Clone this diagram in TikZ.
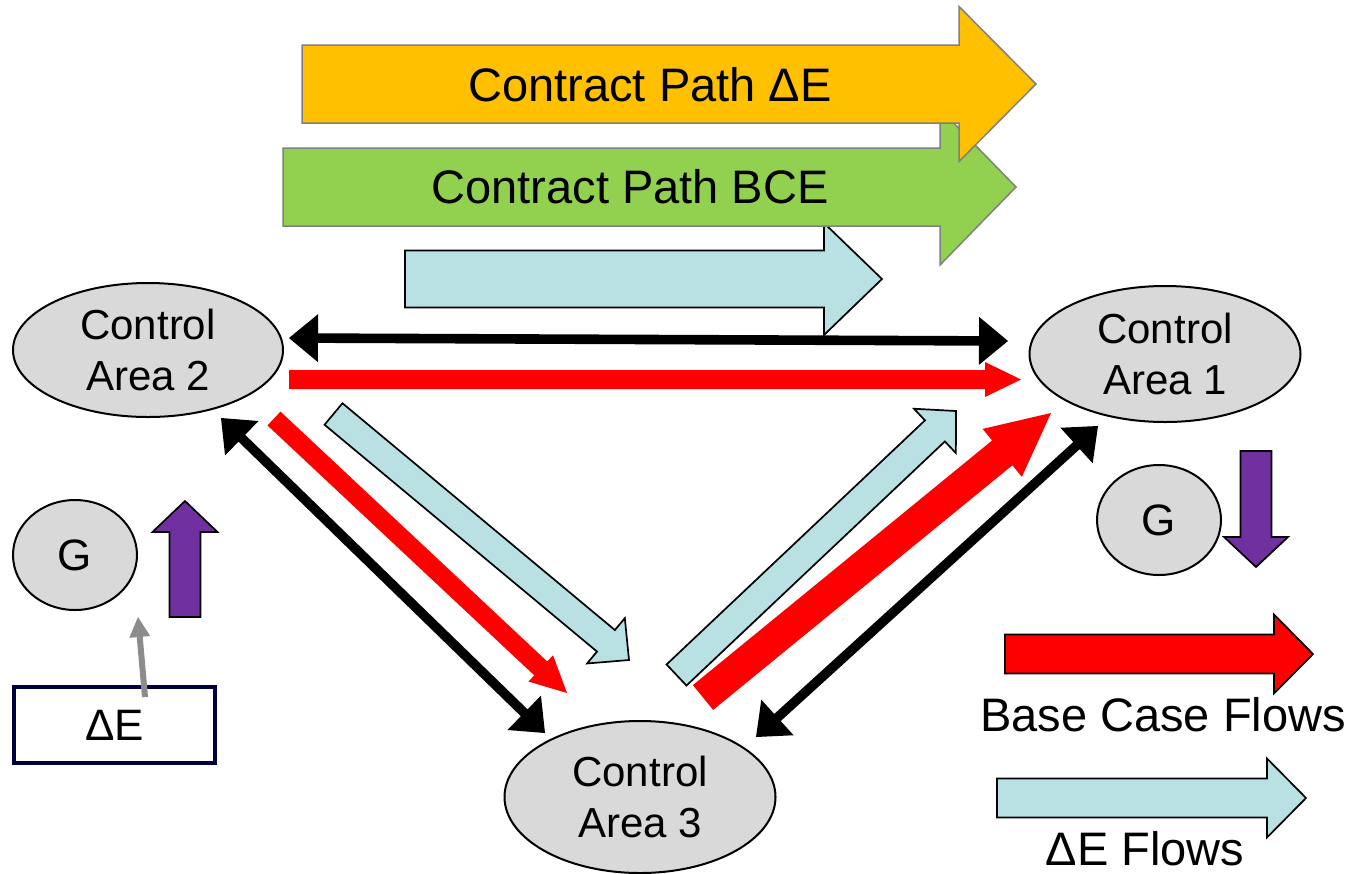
\documentclass[tikz,border=0pt]{standalone}
\usepackage{fontspec}
\setmainfont{Liberation Sans}
\usetikzlibrary{calc,shapes.geometric}
\definecolor{cpOrange}{HTML}{FFC000}
\definecolor{cpGreen}{HTML}{92D050}
\definecolor{lblue}{HTML}{B9E0E3}
\definecolor{purp}{HTML}{7030A0}
\definecolor{areagray}{HTML}{D9D9D9}
\definecolor{navy}{HTML}{000040}
\definecolor{ctrlgray}{HTML}{8C8C8C}
\definecolor{outlinegray}{HTML}{808080}
% block arrow: style, tail, tip, half body, half head, head length
\newcommand{\blockarr}[6]{%
  \path ($(#3)!#6!(#2)$) coordinate (baB);
  \path[#1] ($(#2)!#4!90:(#3)$) -- ($(baB)!#4!90:(#3)$) -- ($(baB)!#5!90:(#3)$) -- (#3)
    -- ($(baB)!#5!-90:(#3)$) -- ($(baB)!#4!-90:(#3)$) -- ($(#2)!#4!-90:(#3)$) -- cycle;}
% double headed arrow: style, tip A, tip B, half body, half head, head length
\newcommand{\dblarr}[6]{%
  \path ($(#2)!#6!(#3)$) coordinate (daA) ($(#3)!#6!(#2)$) coordinate (daB);
  \path[#1] (#2) -- ($(daA)!#5!90:(#3)$) -- ($(daA)!#4!90:(#3)$) -- ($(daB)!#4!90:(#3)$)
    -- ($(daB)!#5!90:(#3)$) -- (#3) -- ($(daB)!#5!-90:(#3)$) -- ($(daB)!#4!-90:(#3)$)
    -- ($(daA)!#4!-90:(#3)$) -- ($(daA)!#5!-90:(#3)$) -- cycle;}
\begin{document}
\begin{tikzpicture}[x=0.5pt,y=-0.5pt,
  area/.style={ellipse, draw=black, line width=1pt, fill=areagray, inner sep=0pt,
    align=center, font=\fontsize{21}{25.5}\selectfont},
  gen/.style={ellipse, draw=black, line width=1pt, fill=areagray, inner sep=0pt,
    minimum width=62pt, minimum height=55pt, font=\fontsize{22}{26}\selectfont},
  bigtext/.style={font=\fontsize{23.5}{28}\selectfont, inner sep=0pt},
  keytext/.style={font=\fontsize{23.5}{28}\selectfont, inner sep=0pt},
  orangearrow/.style={fill=cpOrange, draw=outlinegray, line width=0.75pt},
  greenarrow/.style={fill=cpGreen, draw=outlinegray, line width=0.75pt},
  deltaflow/.style={fill=lblue, draw=black, line width=0.85pt},
  baseflow/.style={fill=red},
  baseflowkey/.style={fill=red, draw=black, line width=0.85pt},
  genarrow/.style={fill=purp, draw=black, line width=0.85pt},
  tieline/.style={fill=black},
  ctrlarrow/.style={fill=ctrlgray}]
\useasboundingbox (0,0) rectangle (1354,873);

% contract path arrows
\blockarr{deltaflow}{405,279}{882,279}{14.25pt}{28pt}{29pt}
\blockarr{greenarrow}{283,187}{1016,187}{19.5pt}{39pt}{38pt}
\node[bigtext] (cpbce) at (630,187) {Contract Path BCE};
\blockarr{orangearrow}{302,84}{1036,84}{19.5pt}{38.75pt}{38.5pt}
\node[bigtext] (cpde) at (650,85) {Contract Path ΔE};

% control areas
\node[area, minimum width=135pt, minimum height=67pt] (ca2) at (148,350) {Control\\Area 2};
\node[area, minimum width=135.5pt, minimum height=68pt] (ca1) at (1165,354) {Control\\Area 1};
\node[area, minimum width=135.5pt, minimum height=76pt] (ca3) at (640,797) {Control\\Area 3};

% generators
\node[gen] (g2) at (75,555) {G};
\node[gen] (g1) at (1159,520) {G};
\node[draw=navy, line width=2pt, minimum width=100.5pt, minimum height=38pt,
  font=\fontsize{22}{26}\selectfont] (de) at (114.5,725) {ΔE};

% connector end points
\coordinate (k2a) at (289,338);   \coordinate (k1a) at (1008,341);
\coordinate (k2b) at (221,418);   \coordinate (k3b) at (545,733);
\coordinate (k3c) at (756,737);   \coordinate (k1c) at (1098,426);
\coordinate (r2a) at (289,379.5); \coordinate (r1a) at (1021,379.5);
\coordinate (r2b) at (274,418.5); \coordinate (r3b) at (567,693);
\coordinate (r3c) at (703,697.5); \coordinate (r1c) at (1051,413);
\coordinate (d2b) at (333.5,414); \coordinate (d3b) at (629,660);
\coordinate (d3c) at (676.5,675); \coordinate (d1c) at (956,411);
\coordinate (gS) at (145,697);    \coordinate (gT) at (138,617);

% tie lines (black, both ways)
\dblarr{tieline}{k2a}{k1a}{2.4pt}{12pt}{14.5pt}
\dblarr{tieline}{k2b}{k3b}{2.4pt}{12pt}{14.5pt}
\dblarr{tieline}{k3c}{k1c}{2.4pt}{12pt}{14.5pt}

% base case flows
\blockarr{baseflow}{r2a}{r1a}{4.75pt}{8.75pt}{18pt}
\blockarr{baseflow}{r2b}{r3b}{4.75pt}{9pt}{18pt}
\blockarr{baseflow}{r3c}{r1c}{8pt}{15.5pt}{31.5pt}

% delta E flows
\blockarr{deltaflow}{d2b}{d3b}{7pt}{14.75pt}{15pt}
\blockarr{deltaflow}{d3c}{d1c}{7.25pt}{15.25pt}{14.5pt}

% generation changes
\blockarr{genarrow}{185,617}{185,501}{7.75pt}{16.25pt}{15.5pt}
\blockarr{genarrow}{1256,451}{1256,567}{7.75pt}{16pt}{15pt}
\blockarr{ctrlarrow}{gS}{gT}{1.5pt}{5.25pt}{10pt}

% legend
\blockarr{baseflowkey}{1005,654}{1313,654}{9.75pt}{19.75pt}{19.5pt}
\node[keytext] (bcf) at (1163,715) {Base Case Flows};
\blockarr{deltaflow}{997,798}{1306,798}{9.75pt}{19.75pt}{19.5pt}
\node[keytext] (def) at (1145,849) {ΔE Flows};
\end{tikzpicture}
\end{document}
